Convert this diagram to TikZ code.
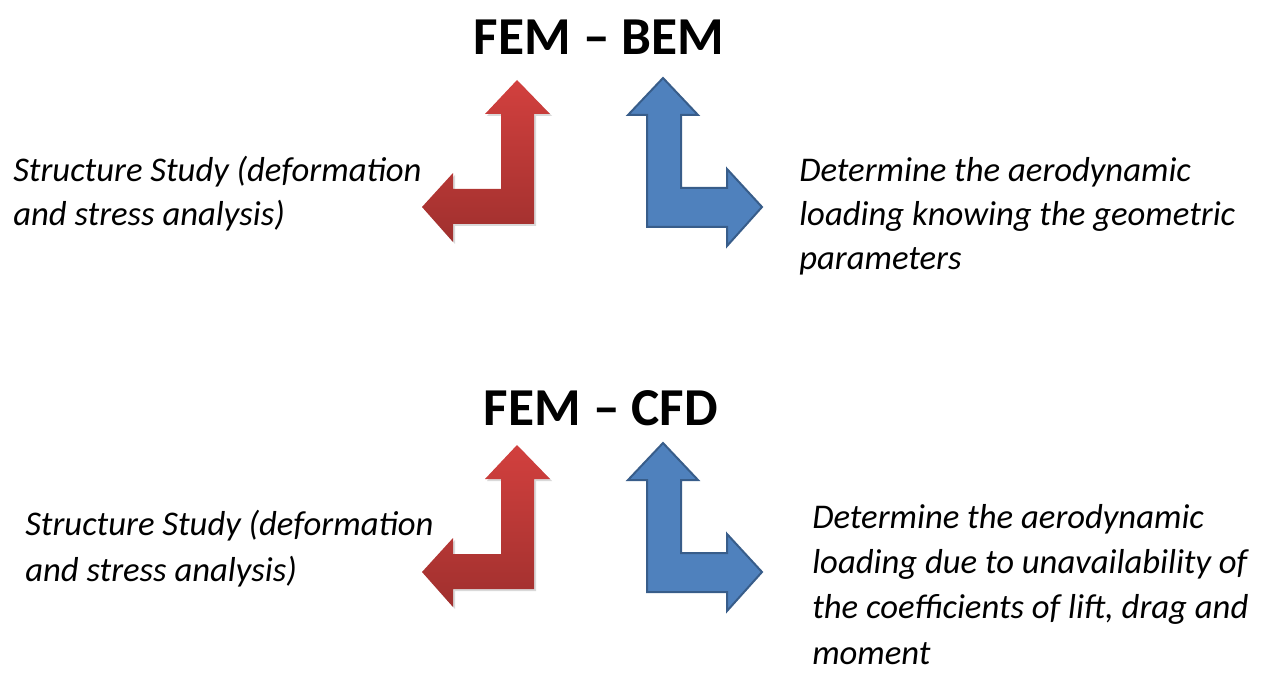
\documentclass[tikz,border=0pt]{standalone}
\usepackage{fontspec}
\setmainfont{Carlito}
\usetikzlibrary{shadows}
\definecolor{redtop}{HTML}{D2403E}
\definecolor{redbot}{HTML}{A0302E}
\definecolor{bluefill}{HTML}{4F81BD}
\definecolor{blueline}{HTML}{385D8A}
\tikzstyle{title} = [font=\bfseries\fontsize{40}{48}\selectfont, inner sep=0pt, anchor=base]
\tikzstyle{note} = [font=\itshape\fontsize{26}{33}\selectfont, align=left, inner sep=0pt, anchor=base west]
\tikzstyle{notewide} = [note, font=\itshape\fontsize{26}{34}\selectfont]
\tikzstyle{redarrow} = [top color=redtop, bottom color=redbot, draw=none, drop shadow={shadow xshift=1.5pt, shadow yshift=-1.5pt, opacity=0.3}]
\tikzstyle{bluearrow} = [fill=bluefill, draw=blueline, line width=1.5pt, line join=miter]

\begin{document}
\begin{tikzpicture}[x=0.75pt, y=-0.75pt]
\useasboundingbox (0,0) rectangle (1269,673);

% Nodes (anchored at the baseline of the last line)
\node (bem) [title] at (599,55) {FEM -- BEM};
\node (structA) [note] at (13,226) {Structure Study (deformation\\and stress analysis)};
\node (aeroA) [note] at (799,270) {Determine the aerodynamic\\loading knowing the geometric\\parameters};

\node (cfd) [title] at (601,425) {FEM -- CFD};
\node (structB) [notewide] at (25,581) {Structure Study (deformation\\and stress analysis)};
\node (aeroB) [notewide] at (812,664) {Determine the aerodynamic\\loading due to unavailability of\\the coefficients of lift, drag and\\moment};

% Arrows
\foreach \dy in {0,365} {
  \begin{scope}[shift={(0,\dy)}]
    \path [redarrow] (517,80) -- (550,114) -- (534,114) -- (534,224) -- (453,224)
      -- (453,242) -- (422,207) -- (453,173) -- (453,189) -- (501,189)
      -- (501,114) -- (485,114) -- cycle;
    \path [bluearrow] (663,78) -- (698,115) -- (681,115) -- (681,188) -- (727,188)
      -- (727,169) -- (762,207) -- (727,246) -- (727,227) -- (647,227)
      -- (647,115) -- (628,115) -- cycle;
  \end{scope}
}

\end{tikzpicture}
\end{document}
